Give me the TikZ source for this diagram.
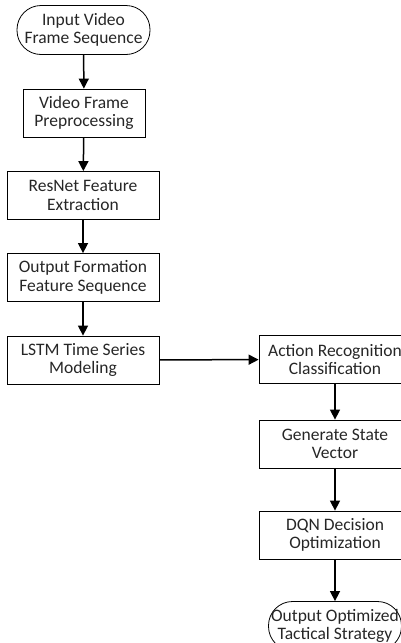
\documentclass[tikz,border=0pt]{standalone}
\usepackage{fontspec}
\setmainfont{Carlito}
\usetikzlibrary{arrows.meta}

\tikzset{
  procbox/.style={draw, line width=0.8pt, minimum width=152pt, minimum height=48pt,
    inner xsep=0pt, align=center, text=black!85, font=\fontsize{17.5}{18.5}\selectfont},
  termnode/.style={procbox, rounded corners=24pt, minimum width=133pt, minimum height=49pt},
  flow/.style={line width=1.5pt, -{Triangle[length=10pt,width=10pt]}},
}

\begin{document}
\begin{tikzpicture}[x=1pt,y=-1pt]
  % page frame, the right column runs off the edge
  \useasboundingbox (0,0) rectangle (401,643);
  \clip (0,0) rectangle (401,643);

  % Left column
  \node[termnode] (input) at (83.5,30) {Input Video\\Frame Sequence};
  \node[procbox, minimum width=122pt] (prep) at (84,113) {Video Frame\\Preprocessing};
  \node[procbox] (resnet) at (83,195.5) {ResNet Feature\\Extraction};
  \node[procbox] (formseq) at (83,277.5) {Output Formation\\Feature Sequence};
  \node[procbox] (lstm) at (83,360) {LSTM Time Series\\Modeling};

  % Right column
  \node[procbox] (action) at (335,359.5) {Action Recognition\\Classification};
  \node[procbox] (state) at (335,444) {Generate State\\Vector};
  \node[procbox] (dqn) at (335,535) {DQN Decision\\Optimization};
  \node[termnode] (strategy) at (335,626) {Output Optimized\\Tactical Strategy};

  % Connectors
  \draw[flow] (input) -- (prep);
  \draw[flow] (prep) -- (resnet);
  \draw[flow] (resnet) -- (formseq);
  \draw[flow] (formseq) -- (lstm);
  \draw[flow] (lstm) -- (action);
  \draw[flow] (action) -- (state);
  \draw[flow] (state) -- (dqn);
  \draw[flow] (dqn) -- (strategy);
\end{tikzpicture}
\end{document}
